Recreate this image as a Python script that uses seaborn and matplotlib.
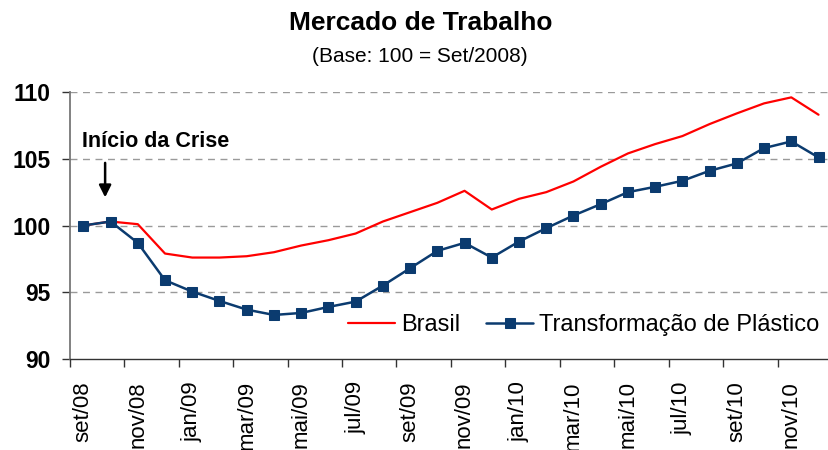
import numpy as np
import pandas as pd
import matplotlib
matplotlib.use("Agg")
import matplotlib.pyplot as plt
import seaborn as sns

# ------------------------------------------
# Data
# ------------------------------------------
months = ["set/08", "out/08", "nov/08", "dez/08",
          "jan/09", "fev/09", "mar/09", "abr/09", "mai/09", "jun/09",
          "jul/09", "ago/09", "set/09", "out/09", "nov/09", "dez/09",
          "jan/10", "fev/10", "mar/10", "abr/10", "mai/10", "jun/10",
          "jul/10", "ago/10", "set/10", "out/10", "nov/10", "dez/10"]

brasil = [100.0, 100.3, 100.1, 97.9, 97.6, 97.6, 97.7, 98.0, 98.5, 98.9,
          99.4, 100.3, 101.0, 101.7, 102.6, 101.2, 102.0, 102.5, 103.3, 104.4,
          105.4, 106.1, 106.7, 107.6, 108.4, 109.15, 109.6, 108.3]

plastico = [100.0, 100.3, 98.7, 95.9, 95.05, 94.35, 93.7, 93.3, 93.45, 93.9,
            94.3, 95.5, 96.8, 98.1, 98.7, 97.6, 98.8, 99.8, 100.75, 101.6,
            102.5, 102.9, 103.35, 104.1, 104.65, 105.8, 106.3, 105.1]

y_ticks = [90, 95, 100, 105, 110]

df = pd.DataFrame({"idx": np.arange(len(months)), "mes": months,
                   "Brasil": brasil, "Transformação de Plástico": plastico})

# ------------------------------------------
# Style
# ------------------------------------------
sns.set_style("white")
plt.rcParams['font.family'] = ['Liberation Sans', 'DejaVu Sans']
plt.rcParams['text.color'] = 'black'
plt.rcParams['xtick.color'] = 'black'
plt.rcParams['ytick.color'] = 'black'

RED = "#FF0000"
NAVY = "#0B3B6F"

fig = plt.figure(figsize=(8.29, 4.5), dpi=100)
ax = fig.add_axes([0.0841, 0.2022, 0.9197, 0.5933])

sns.lineplot(data=df, x="idx", y="Brasil", ax=ax, color=RED, lw=1.6,
             label="Brasil")
sns.lineplot(data=df, x="idx", y="Transformação de Plástico", ax=ax,
             color=NAVY, lw=1.8, marker="s", markersize=6.5,
             markeredgecolor=NAVY, label="Transformação de Plástico")

ax.set_xlim(-0.5, len(months) - 0.5)
ax.set_ylim(90, 110)

# grid lines
for v in y_ticks[1:]:
    ax.axhline(v, color="#9a9a9a", lw=1.0, ls=(0, (5, 4)), zorder=0)

# y axis
ax.set_yticks(y_ticks)
ax.set_yticklabels([str(v) for v in y_ticks], fontsize=16.5,
                   fontweight="bold")
ax.tick_params(axis="y", direction="out", length=6, width=1,
               color="#333333", labelcolor="black", pad=8, left=True)

# x axis: labels every 2 months, ticks between categories
lab_pos = list(range(0, len(months), 2))
ax.set_xticks(lab_pos)
ax.set_xticklabels([months[i] for i in lab_pos], rotation=90, fontsize=16)
ax.tick_params(axis="x", which="major", length=0, pad=16,
               labelcolor="black")
ax.set_xticks([p - 0.5 for p in lab_pos], minor=True)
ax.tick_params(axis="x", which="minor", direction="out", length=6,
               width=1, color="#333333", bottom=True)
ax.set_xlabel("")
ax.set_ylabel("")

for s in ["top", "right"]:
    ax.spines[s].set_visible(False)
ax.spines["left"].set_color("#777777")
ax.spines["left"].set_linewidth(1.3)
ax.spines["bottom"].set_color("#333333")
ax.spines["bottom"].set_linewidth(1.0)

# titles
fig.text(0.507, 0.95, "Mercado de Trabalho", ha="center", va="center",
         fontsize=19, fontweight="bold", color="black")
fig.text(0.507, 0.875, "(Base: 100 = Set/2008)", ha="center", va="center",
         fontsize=15, color="black")

# annotation
ax.annotate("", xy=(0.8, 101.9), xytext=(0.8, 104.9),
            arrowprops=dict(arrowstyle="-|>", color="black", lw=1.8,
                            mutation_scale=18))
ax.text(2.67, 106.3, "Início da Crise", ha="center", va="center",
        fontsize=15.5, fontweight="bold", color="black")

# legend
leg = ax.legend(loc="center right", bbox_to_anchor=(1.0, 0.278),
                bbox_transform=fig.transFigure, ncol=2, frameon=False,
                fontsize=17, handlelength=2.0, handletextpad=0.25,
                columnspacing=1.1, borderaxespad=0, labelcolor="black")

fig.savefig("out.png", dpi=100)
